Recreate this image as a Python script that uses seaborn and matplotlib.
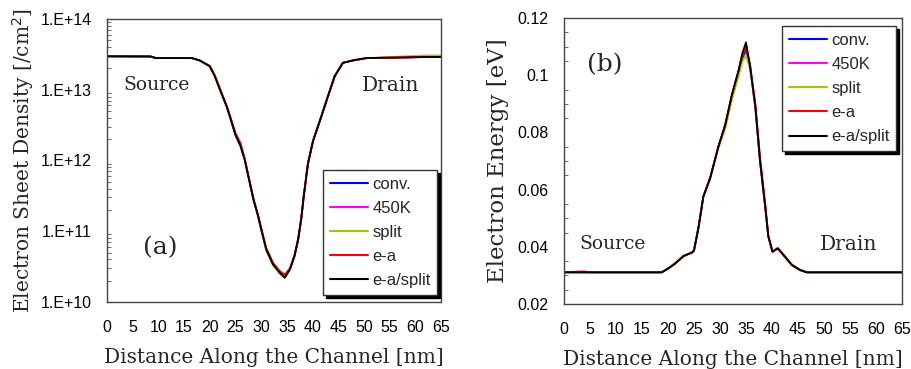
import numpy as np
import pandas as pd
import matplotlib
matplotlib.use("Agg")
import matplotlib.pyplot as plt
import seaborn as sns
from matplotlib.ticker import FixedLocator, NullFormatter, MultipleLocator, FuncFormatter, LogLocator

# ---------------- data ----------------
series_names = ["conv.", "450K", "split", "e-a", "e-a/split"]
series_colors = ["#0000ff", "#ff00ff", "#99cc00", "#ff0000", "#000000"]

# Panel (a): electron sheet density [/cm^2]
x_a = [0, 8.5, 9.5, 16.5, 18, 20, 21, 22, 23.3, 24, 25, 26, 26.8, 27.5, 28.5,
       29.4, 30.1, 31, 32.3, 33.6, 34.6, 35.6, 36.5, 37.2, 37.8, 38.3, 39.1,
       40.1, 41.4, 43, 44.3, 45.9, 47.9, 50.5, 62, 65]
dens_conv = [2.97e13, 2.95e13, 2.8e13, 2.8e13, 2.6e13, 2.15e13, 1.55e13, 1.0e13, 5.8e12, 4.0e12,
             2.3e12, 1.6e12, 1.03e12, 6.0e11, 2.8e11, 1.64e11, 1.0e11, 5.5e10, 3.4e10, 2.6e10,
             2.25e10, 2.9e10, 4.5e10, 7.7e10, 1.5e11, 3.2e11, 9.0e11, 1.9e12, 3.6e12, 8.1e12,
             1.55e13, 2.4e13, 2.6e13, 2.8e13, 2.9e13, 2.9e13]
dens_450K = [2.97e13, 2.95e13, 2.8e13, 2.8e13, 2.6e13, 2.15e13, 1.55e13, 1.0e13, 5.8e12, 4.0e12,
             2.3e12, 1.6e12, 1.03e12, 6.0e11, 2.8e11, 1.64e11, 1.0e11, 5.5e10, 3.4e10, 2.6e10,
             2.3e10, 2.9e10, 4.5e10, 7.7e10, 1.5e11, 3.2e11, 9.0e11, 1.9e12, 3.6e12, 8.1e12,
             1.55e13, 2.4e13, 2.6e13, 2.8e13, 2.9e13, 2.9e13]
dens_split = [2.97e13, 2.95e13, 2.8e13, 2.8e13, 2.6e13, 2.2e13, 1.62e13, 1.05e13, 6.0e12, 4.1e12,
              2.35e12, 1.55e12, 1.05e12, 6.2e11, 2.9e11, 1.6e11, 9.7e10, 5.3e10, 3.3e10, 2.5e10,
              2.2e10, 2.9e10, 4.5e10, 7.7e10, 1.5e11, 3.2e11, 9.0e11, 1.9e12, 3.6e12, 8.1e12,
              1.55e13, 2.4e13, 2.6e13, 2.8e13, 3.05e13, 3.05e13]
dens_ea = [2.97e13, 2.95e13, 2.8e13, 2.8e13, 2.6e13, 2.15e13, 1.55e13, 1.0e13, 5.8e12, 4.1e12,
           2.45e12, 1.75e12, 1.05e12, 6.1e11, 2.9e11, 1.7e11, 1.05e11, 5.8e10, 3.6e10, 2.75e10,
           2.45e10, 3.0e10, 4.6e10, 7.8e10, 1.5e11, 3.2e11, 9.0e11, 1.9e12, 3.6e12, 8.1e12,
           1.55e13, 2.4e13, 2.6e13, 2.8e13, 2.9e13, 2.9e13]
dens_easplit = [2.97e13, 2.95e13, 2.8e13, 2.8e13, 2.6e13, 2.15e13, 1.55e13, 1.0e13, 5.8e12, 4.0e12,
                2.3e12, 1.59e12, 1.03e12, 6.0e11, 2.8e11, 1.64e11, 1.0e11, 5.5e10, 3.4e10, 2.6e10,
                2.2e10, 2.9e10, 4.5e10, 7.7e10, 1.5e11, 3.2e11, 9.0e11, 1.9e12, 3.6e12, 8.1e12,
                1.55e13, 2.4e13, 2.6e13, 2.8e13, 2.9e13, 2.9e13]

# Panel (b): electron energy [eV]
x_b = [0, 3, 4, 5, 18.8, 20.1, 21.4, 23, 24.6, 25, 25.9, 26.8, 28.1, 29.7, 31, 32.3,
       33.6, 34.3, 35, 35.8, 36.8, 37.7, 38.7, 39.3, 40.1, 41.1, 42.2, 43.8, 45.4,
       46.7, 65]
en_conv = [0.0311, 0.0311, 0.0311, 0.0311, 0.0311, 0.0325, 0.0342, 0.0368, 0.038, 0.0387,
           0.0471, 0.0576, 0.064, 0.0751, 0.0825, 0.0928, 0.1010, 0.1060, 0.1088, 0.1025,
           0.0890, 0.0700, 0.0540, 0.0436, 0.0383, 0.0395, 0.0372, 0.0337, 0.0319, 0.0311, 0.0311]
en_450K = [0.0311, 0.0311, 0.0311, 0.0311, 0.0311, 0.0325, 0.0342, 0.0368, 0.038, 0.0387,
           0.0471, 0.0576, 0.064, 0.0751, 0.0825, 0.0930, 0.1015, 0.1068, 0.1105, 0.1032,
           0.0893, 0.0705, 0.0542, 0.0436, 0.0383, 0.0395, 0.0372, 0.0337, 0.0319, 0.0311, 0.0311]
en_split = [0.0311, 0.0311, 0.0311, 0.0311, 0.0311, 0.0327, 0.0345, 0.0370, 0.038, 0.0387,
            0.0471, 0.0576, 0.0638, 0.0745, 0.0812, 0.0915, 0.0998, 0.1048, 0.1070, 0.1020,
            0.0885, 0.0700, 0.0540, 0.0436, 0.0383, 0.0396, 0.0375, 0.0340, 0.0321, 0.0312, 0.0312]
en_ea = [0.0311, 0.0314, 0.0314, 0.0311, 0.0311, 0.0325, 0.0342, 0.0368, 0.038, 0.0387,
         0.0471, 0.0576, 0.064, 0.0751, 0.0827, 0.0933, 0.1018, 0.1070, 0.1100, 0.1035,
         0.0900, 0.0715, 0.0550, 0.0440, 0.0383, 0.0395, 0.0372, 0.0337, 0.0319, 0.0311, 0.0311]
en_easplit = [0.0311, 0.0311, 0.0311, 0.0311, 0.0311, 0.0325, 0.0342, 0.0368, 0.038, 0.0387,
              0.0471, 0.0576, 0.064, 0.0751, 0.0825, 0.0932, 0.1019, 0.1077, 0.1115, 0.1030,
              0.0890, 0.0700, 0.0540, 0.0436, 0.0383, 0.0395, 0.0372, 0.0337, 0.0319, 0.0311, 0.0311]

dens_all = [dens_conv, dens_450K, dens_split, dens_ea, dens_easplit]
en_all = [en_conv, en_450K, en_split, en_ea, en_easplit]

df_a = pd.concat([pd.DataFrame({"x": x_a, "y": v, "series": n}) for n, v in zip(series_names, dens_all)])
df_b = pd.concat([pd.DataFrame({"x": x_b, "y": v, "series": n}) for n, v in zip(series_names, en_all)])

# ---------------- style ----------------
sns.set_theme(style="white")
plt.rcParams["font.family"] = ["Liberation Sans", "DejaVu Sans"]
serif = ["DejaVu Serif", "Liberation Serif"]
palette = dict(zip(series_names, series_colors))

fig = plt.figure(figsize=(9.12, 3.69), dpi=100)
ax1 = fig.add_axes([0.1173, 0.1816, 0.3663, 0.767])
ax2 = fig.add_axes([0.6184, 0.176, 0.3706, 0.775])

for ax, df in ((ax1, df_a), (ax2, df_b)):
    sns.lineplot(data=df, x="x", y="y", hue="series", hue_order=series_names,
                 palette=palette, ax=ax, linewidth=1.3, sort=False, estimator=None)
    ax.set_xlim(0, 65)
    ax.xaxis.set_major_locator(MultipleLocator(5))
    ax.tick_params(axis="both", which="both", direction="in", labelsize=11.5,
                   top=False, right=False, colors="#555555", labelcolor="black")
    ax.tick_params(axis="x", length=5, width=0.8, pad=13)
    ax.tick_params(axis="y", which="major", length=5, width=0.8, pad=11)
    ax.tick_params(axis="y", which="minor", length=3, width=0.6, left=True)
    for s in ax.spines.values():
        s.set_color("#444444")
        s.set_linewidth(1.0)
    ax.set_xlabel("Distance Along the Channel [nm]", family=serif, fontsize=14.5, labelpad=9)

# Panel (a)
ax1.set_yscale("log")
ax1.set_ylim(1e10, 1e14)
ax1.yaxis.set_major_locator(FixedLocator([1e10, 1e11, 1e12, 1e13, 1e14]))
ax1.yaxis.set_major_formatter(FuncFormatter(lambda v, p: "1.E+%d" % round(np.log10(v))))
ax1.yaxis.set_minor_locator(LogLocator(base=10, subs=np.arange(2, 10)))
ax1.yaxis.set_minor_formatter(NullFormatter())
ax1.set_ylabel("Electron Sheet Density [/cm$^2$]", family=serif, fontsize=14.5, labelpad=3)
ax1.text(3.2, 1.15e13, "Source", family=serif, fontsize=13.5, ha="left", va="center")
ax1.text(49.5, 1.15e13, "Drain", family=serif, fontsize=14.5, ha="left", va="center")
ax1.text(7.0, 5.9e10, "(a)", family=serif, fontsize=18, ha="left", va="center")

# Panel (b)
ax2.set_ylim(0.02, 0.12)
ax2.yaxis.set_major_locator(MultipleLocator(0.02))
ax2.yaxis.set_minor_locator(MultipleLocator(0.005))
ax2.yaxis.set_major_formatter(FuncFormatter(lambda v, p: ("%.2f" % v).rstrip("0")))
ax2.set_ylabel("Electron Energy [eV]", family=serif, fontsize=16.5, labelpad=6)
ax2.text(2.9, 0.0409, "Source", family=serif, fontsize=13.5, ha="left", va="center")
ax2.text(49.3, 0.0409, "Drain", family=serif, fontsize=14.5, ha="left", va="center")
ax2.text(4.4, 0.1037, "(b)", family=serif, fontsize=18, ha="left", va="center")

legend_kw = dict(frameon=True, fancybox=False, framealpha=1, edgecolor="#333333",
                 fontsize=12, handlelength=2.3, handletextpad=0.25, labelspacing=0.55,
                 borderpad=0.4, borderaxespad=0, title=None,
                 shadow={"color": "black", "alpha": 1})
for ax, loc, anchor in ((ax1, "lower left", (0.647, 0.025)), (ax2, "upper left", (0.645, 0.972))):
    h, l = ax.get_legend_handles_labels()
    for hh in h:
        hh.set_linewidth(1.5)
    leg = ax.legend(h, l, loc=loc, bbox_to_anchor=anchor, **legend_kw)
    leg.get_frame().set_linewidth(1.0)

fig.savefig("out.png", dpi=100)
